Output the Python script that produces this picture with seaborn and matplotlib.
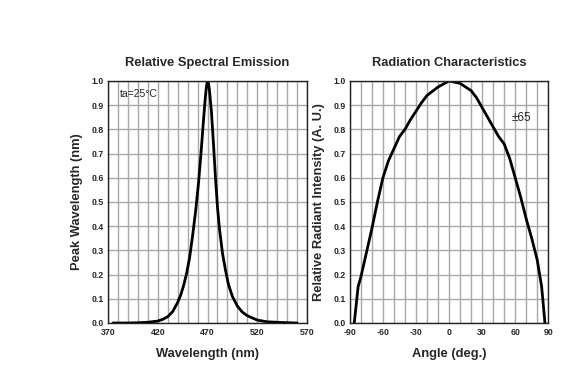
import numpy as np
import pandas as pd
import matplotlib.pyplot as plt
import seaborn as sns

# spectral emission values
wavelength = [375, 390, 400, 410, 420, 425, 430, 435, 440, 443, 446, 449, 452, 455,
              458, 461, 464, 466, 468, 469, 470, 471, 472, 474, 476, 478, 480, 482,
              485, 488, 491, 495, 500, 505, 510, 520, 530, 545, 560]
emission = [0.0, 0.0, 0.001, 0.003, 0.008, 0.015, 0.026, 0.047, 0.085, 0.115, 0.155, 0.205,
            0.27, 0.36, 0.46, 0.58, 0.73, 0.84, 0.94, 0.98, 1.0, 0.99, 0.96, 0.87, 0.74,
            0.6, 0.48, 0.39, 0.29, 0.22, 0.16, 0.11, 0.07, 0.045, 0.03, 0.012, 0.005,
            0.002, 0.0]

# radiation pattern values
angle = [-86, -82.5, -80, -75, -70, -65, -60, -55, -50, -45, -40, -35, -30, -25, -20,
         -10, 0, 10, 20, 25, 30, 35, 40, 45, 50, 55, 60, 65, 70, 75, 80, 84, 87]
intensity = [0.0, 0.15, 0.19, 0.29, 0.39, 0.5, 0.6, 0.67, 0.72, 0.77, 0.8, 0.84, 0.875,
             0.91, 0.94, 0.975, 1.0, 0.99, 0.96, 0.93, 0.89, 0.85, 0.81, 0.77, 0.74,
             0.68, 0.6, 0.52, 0.43, 0.35, 0.26, 0.15, 0.0]

spec = pd.DataFrame({'wl': wavelength, 'rel': emission})
rad = pd.DataFrame({'ang': angle, 'rel': intensity})

sns.set_theme(style='white')
plt.rcParams['font.family'] = ['Liberation Sans', 'DejaVu Sans']
plt.rcParams['axes.unicode_minus'] = False

fig = plt.figure(figsize=(5.87, 3.8), dpi=100)
ax0 = fig.add_axes([0.184, 0.150, 0.339, 0.637])
ax1 = fig.add_axes([0.596, 0.150, 0.338, 0.637])

sns.lineplot(x='wl', y='rel', data=spec, color='black', linewidth=2, ax=ax0)
sns.lineplot(x='ang', y='rel', data=rad, color='black', linewidth=2, ax=ax1)

def style(ax, xmin, xmax, major, minor):
    ax.set_xlim(xmin, xmax)
    ax.set_ylim(0, 1.0)
    ax.set_xticks(np.arange(xmin, xmax + 1, major))
    ax.set_xticks(np.arange(xmin, xmax + 1, minor), minor=True)
    ax.set_yticks(np.arange(0, 1.01, 0.1))
    ax.set_yticklabels(['%.1f' % v for v in np.arange(0, 1.01, 0.1)])
    ax.grid(True, which='both', color='#a8a8a8', linewidth=1)
    ax.set_axisbelow(True)
    ax.tick_params(which='both', length=0, labelsize=6.3)
    ax.tick_params(axis='x', pad=3.5)
    ax.tick_params(axis='y', pad=3)
    for lbl in ax.get_xticklabels() + ax.get_yticklabels():
        lbl.set_fontweight('bold')
    for sp in ax.spines.values():
        sp.set_color('#222222')
        sp.set_linewidth(1)

style(ax0, 370, 570, 50, 10)
style(ax1, -90, 90, 30, 10)

fs = 9.3
ax0.set_title('Relative Spectral Emission', fontsize=fs, fontweight='bold', pad=11)
ax0.set_xlabel('Wavelength (nm)', fontsize=fs, fontweight='bold', labelpad=8)
ax0.set_ylabel('Peak Wavelength (nm)', fontsize=fs, fontweight='bold', labelpad=6)
ax0.text(382, 0.935, 'ta=25°C', fontsize=7.5)

ax1.set_title('Radiation Characteristics', fontsize=fs, fontweight='bold', pad=11)
ax1.set_xlabel('Angle (deg.)', fontsize=fs, fontweight='bold', labelpad=8)
ax1.set_ylabel('Relative Radiant Intensity (A. U.)', fontsize=fs, fontweight='bold', labelpad=6)
ax1.text(57, 0.835, '±65', fontsize=8.5)

plt.savefig('out.png', dpi=100)
